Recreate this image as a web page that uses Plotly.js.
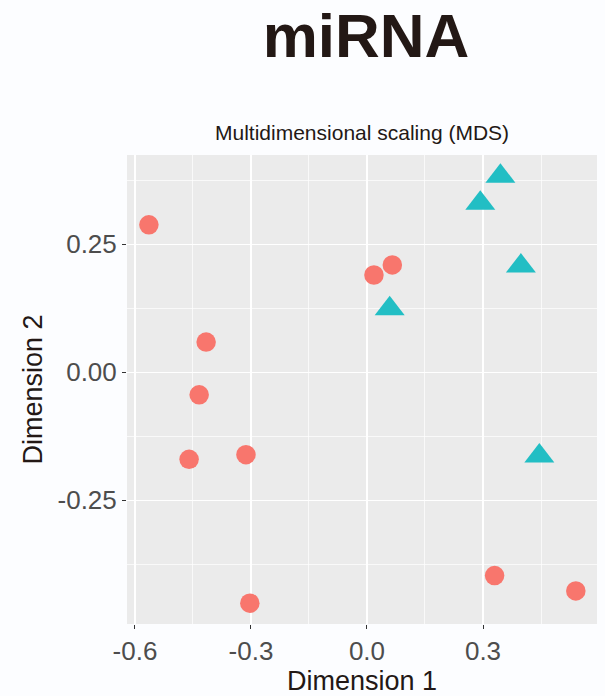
<!DOCTYPE html>
<html>
<head>
<meta charset="utf-8">
<script src="https://cdn.plot.ly/plotly-3.0.1.min.js"></script>
<style>
html,body{margin:0;padding:0;background:#fcfdff;}
#chart{width:605px;height:696px;}
</style>
</head>
<body>
<div id="chart"></div>
<script>
// Group 1 (circles)
const group1Dim1 = [-0.564, 0.018, 0.0655, -0.416, -0.434, -0.460, -0.313, -0.303, 0.330, 0.540];
const group1Dim2 = [0.288, 0.190, 0.2096, 0.059, -0.044, -0.170, -0.161, -0.451, -0.397, -0.427];
// Group 2 (triangles)
const group2Dim1 = [0.345, 0.293, 0.398, 0.0587, 0.4457];
const group2Dim2 = [0.383, 0.330, 0.2074, 0.124, -0.1637];

const xTickVals = [-0.6, -0.3, 0.0, 0.3];
const xTickText = ["-0.6", "-0.3", "0.0", "0.3"];
const xMinorVals = [-0.45, -0.15, 0.15, 0.45];
const yTickVals = [-0.25, 0.0, 0.25];
const yTickText = ["-0.25", "0.00", "0.25"];
const yMinorVals = [-0.375, -0.125, 0.125, 0.375];

const FONT = '"Liberation Sans", Arial, Helvetica, sans-serif';
const INK = '#231815';

const traces = [
  {x: group1Dim1, y: group1Dim2, type: 'scatter', mode: 'markers',
   marker: {symbol: 'circle', size: 19.5, color: '#F8766D', line: {width: 0}},
   hoverinfo: 'x+y', showlegend: false},
  {x: group2Dim1, y: group2Dim2, type: 'scatter', mode: 'markers',
   marker: {symbol: 'triangle-up', size: 26, color: '#22BEC4', line: {width: 0}},
   hoverinfo: 'x+y', showlegend: false}
];

const axisCommon = {
  showline: false, zeroline: false,
  ticks: 'outside', ticklen: 4, tickwidth: 1, tickcolor: '#333333',
  showgrid: true, gridcolor: '#ffffff', gridwidth: 1.5,
  tickfont: {family: FONT, size: 26, color: '#4d4d4d'},
  tickmode: 'array'
};

const layout = {
  width: 605, height: 696,
  paper_bgcolor: '#fcfdff', plot_bgcolor: '#ebebeb',
  margin: {l: 127, r: 8, t: 155, b: 72, autoexpand: false},
  font: {family: FONT, color: INK},
  title: {text: '<b>miRNA</b>', font: {family: FONT, size: 62, color: INK},
          x: 366/605, xanchor: 'center', xref: 'container',
          y: 1 - 35/696, yanchor: 'middle', yref: 'container'},
  xaxis: Object.assign({}, axisCommon, {
    range: [-0.6206, 0.5948], tickvals: xTickVals, ticktext: xTickText,
    minor: {tickmode: 'array', tickvals: xMinorVals, showgrid: true, gridcolor: '#ffffff', gridwidth: 0.7, ticks: '', ticklen: 0},
    title: {text: 'Dimension 1', font: {family: FONT, size: 27, color: INK}, standoff: 0},
    automargin: false
  }),
  yaxis: Object.assign({}, axisCommon, {
    range: [-0.4916, 0.4244], tickvals: yTickVals, ticktext: yTickText,
    minor: {tickmode: 'array', tickvals: yMinorVals, showgrid: true, gridcolor: '#ffffff', gridwidth: 0.7, ticks: '', ticklen: 0},
    title: {text: 'Dimension 2', font: {family: FONT, size: 27, color: INK}, standoff: 7},
    automargin: false
  }),
  annotations: [
    {text: 'Multidimensional scaling (MDS)', xref: 'paper', yref: 'paper',
     x: 0.5, y: (624-133)/469, xanchor: 'center', yanchor: 'middle', showarrow: false,
     font: {family: FONT, size: 21, color: INK}}
  ]
};

Plotly.newPlot('chart', traces, layout, {displayModeBar: false, staticPlot: true});
</script>
</body>
</html>
